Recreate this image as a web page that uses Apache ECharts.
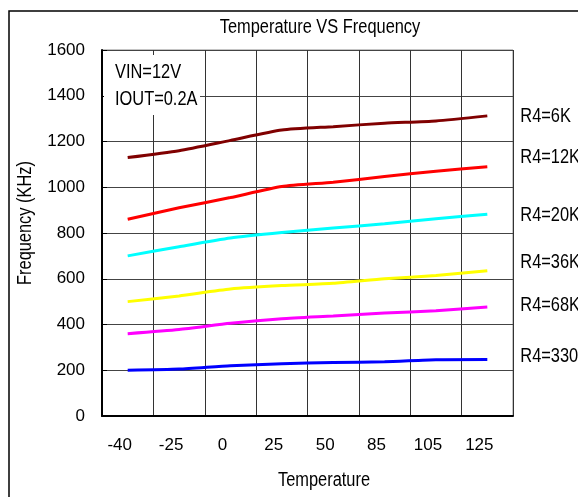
<!DOCTYPE html>
<html>
<head>
<meta charset="utf-8">
<script src="https://cdn.jsdelivr.net/npm/echarts@6/dist/echarts.min.js"></script>
<style>
  html, body { margin: 0; padding: 0; background: #fff; }
  #chart { width: 578px; height: 497px; }
</style>
</head>
<body>
<div id="chart"></div>
<script>
var temps = ["-40", "-25", "0", "25", "50", "85", "105", "125"]; //x轴温度
var yTicks = [0, 200, 400, 600, 800, 1000, 1200, 1400, 1600];

var names = ["R4=6K", "R4=12K", "R4=20K", "R4=36K", "R4=68K", "R4=330K"];
var colors = ["#800000", "#ff0000", "#00ffff", "#ffff00", "#ff00ff", "#0000ff"];
var r6k = [1130, 1160, 1205, 1250, 1265, 1280, 1290, 1312];
var r12k = [860, 910, 955, 1003, 1022, 1047, 1070, 1090];
var r20k = [700, 740, 778, 802, 822, 840, 862, 882];
var r36k = [500, 525, 555, 570, 580, 600, 614, 635];
var r68k = [360, 378, 405, 425, 437, 450, 460, 476];
var r330k = [200, 205, 220, 228, 234, 237, 246, 247];
var labelDy = [1, -9, 1, -8, -2, -3]; //右侧标签上下偏移

var font = "'Liberation Sans', Arial, sans-serif";
var narrow = 0.82; //模拟窄体字
var chart = echarts.init(document.getElementById("chart"));

function makeSeries (i, data) {
  return {
    name: names[i],
    type: "line",
    data: data,
    smooth: 0.2,
    symbol: "none",
    lineStyle: { color: colors[i], width: 3 },
    itemStyle: { color: colors[i] },
    z: 5
  };
}

//窄体文字
function narrowText (x, y, text, align, rotation) {
  return {
    type: "text", z: 101, x: x, y: y, scaleX: narrow, rotation: rotation || 0,
    style: { text: text, x: 0, y: 0, align: align, verticalAlign: "middle",
      fontFamily: font, fontSize: 20, fill: "#000" }
  };
}

var option = {
  animation: false,
  backgroundColor: "#fff",
  grid: {
    left: 102, right: 65, top: 50, bottom: 81,
    outerBoundsMode: "none",
    containLabel: false,
    show: true, borderColor: "#888", borderWidth: 1
  },
  xAxis: {
    type: "category",
    data: temps,
    boundaryGap: true,
    axisLine: { lineStyle: { color: "#000", width: 2 } },
    axisTick: { show: false },
    axisLabel: { fontFamily: font, fontSize: 17, color: "#000", margin: 21, padding: [0, 16, 0, 0] },
    splitLine: { show: true, interval: 0, lineStyle: { color: "#333", width: 1 } }
  },
  yAxis: {
    type: "value",
    min: yTicks[0],
    max: yTicks[yTicks.length - 1],
    interval: 200,
    axisLine: { show: true, lineStyle: { color: "#000", width: 2 } },
    axisTick: { show: true, inside: true, length: 5, lineStyle: { color: "#000" } },
    axisLabel: { fontFamily: font, fontSize: 17, color: "#000", margin: 17,
      formatter: function (v) { return String(v); } },
    splitLine: { show: true, lineStyle: { color: "#444", width: 1 } }
  },
  graphic: [
    { type: "rect", z: 100, shape: { x: 9, y: 11, width: 700, height: 600 },
      style: { fill: null, stroke: "#000", lineWidth: 1.5 } },
    { type: "rect", z: 100, shape: { x: 104, y: 55, width: 96, height: 60 },
      style: { fill: "#fff" } },
    narrowText(320, 27, "Temperature VS Frequency", "center"),
    narrowText(115, 72, "VIN=12V", "left"),
    narrowText(115, 99, "IOUT=0.2A", "left"),
    narrowText(324, 480, "Temperature", "center"),
    narrowText(25, 223, "Frequency (KHz)", "center", Math.PI / 2)
  ],
  series: [
    makeSeries(0, r6k),
    makeSeries(1, r12k),
    makeSeries(2, r20k),
    makeSeries(3, r36k),
    makeSeries(4, r68k),
    makeSeries(5, r330k)
  ]
};

chart.setOption(option);

//右侧系列标签：跟随每条线最后一个点
var allData = [r6k, r12k, r20k, r36k, r68k, r330k];
var endLabels = [];
for (var i = 0; i < names.length; i++) {
  var last = allData[i].length - 1;
  var p = chart.convertToPixel({ seriesIndex: i }, [last, allData[i][last]]);
  endLabels.push(narrowText(p[0] + 33, p[1] + labelDy[i], names[i], "left"));
}
chart.setOption({ graphic: option.graphic.concat(endLabels) });
</script>
</body>
</html>
